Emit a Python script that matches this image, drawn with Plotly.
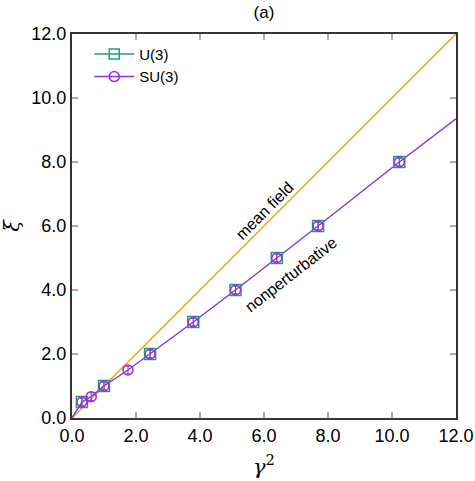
import plotly.graph_objects as go

# SU(3) data (all points) and U(3) data (subset)
su3_gamma2 = [0.31, 0.60, 1.00, 1.75, 2.44, 3.79, 5.11, 6.40, 7.69, 10.23]
su3_xi = [0.5, 0.667, 1.0, 1.5, 2.0, 3.0, 4.0, 5.0, 6.0, 8.0]
su3_err = [0.12, 0.12, 0.12, 0.12, 0.12, 0.12, 0.12, 0.12, 0.12, 0.12]

u3_gamma2 = [0.31, 1.00, 2.44, 3.79, 5.11, 6.40, 7.69, 10.23]
u3_xi = [0.5, 1.0, 2.0, 3.0, 4.0, 5.0, 6.0, 8.0]
u3_err = [0.12, 0.12, 0.12, 0.12, 0.12, 0.12, 0.12, 0.12]

# curves
mf_gamma2 = [0.0, 12.0]
mf_xi = [0.0, 12.0]
np_gamma2 = [0.0, 0.31, 0.60, 1.00, 1.75, 2.44, 3.79, 5.11, 6.40, 7.69, 10.23, 12.0]
np_xi = [0.0, 0.5, 0.667, 1.0, 1.5, 2.0, 3.0, 4.0, 5.0, 6.0, 8.0, 9.35]

green = "#1f9e78"
purple = "#9b2ee0"
line_purple = "#7e3fd6"
orange = "#f0a30a"

fig = go.Figure()

fig.add_trace(go.Scatter(x=mf_gamma2, y=mf_xi, mode="lines",
                         line=dict(color=orange, width=1.5), showlegend=False))
fig.add_trace(go.Scatter(x=np_gamma2, y=np_xi, mode="lines",
                         line=dict(color=line_purple, width=1.5), showlegend=False))

fig.add_trace(go.Scatter(
    x=u3_gamma2, y=u3_xi, mode="markers", name="U(3)",
    marker=dict(symbol="square-open", size=11, color=green, line=dict(width=1.5)),
    error_y=dict(type="data", array=u3_err, color=green, thickness=1, width=2),
    showlegend=False,
))
fig.add_trace(go.Scatter(
    x=su3_gamma2, y=su3_xi, mode="markers", name="SU(3)",
    marker=dict(symbol="circle-open", size=10, color=purple, line=dict(width=1.5)),
    error_y=dict(type="data", array=su3_err, color=purple, thickness=1, width=2),
    showlegend=False,
))

# legend entries
fig.add_trace(go.Scatter(
    x=[None], y=[None], mode="lines+markers", name="U(3)",
    line=dict(color=green, width=1.5),
    marker=dict(symbol="square-open", size=10, color=green, line=dict(width=1.5)),
))
fig.add_trace(go.Scatter(
    x=[None], y=[None], mode="lines+markers", name="SU(3)",
    line=dict(color=purple, width=1.5),
    marker=dict(symbol="circle-open", size=10, color=purple, line=dict(width=1.5)),
))

fig.add_annotation(x=6.03, y=6.47, text="mean field", showarrow=False,
                   textangle=-45, font=dict(size=16, color="black"))
fig.add_annotation(x=6.84, y=4.5, text="nonperturbative", showarrow=False,
                   textangle=-37.8, font=dict(size=16, color="black"))

axis_style = dict(
    range=[0, 12], dtick=2, tickformat=".1f", automargin=False,
    showgrid=False, zeroline=False,
    showline=True, linecolor="#333333", linewidth=2, mirror="ticks",
    ticks="inside", ticklen=6, tickcolor="#aaaaaa", tickwidth=1.5,
    tickfont=dict(size=18, color="black", family="Liberation Sans"),
)

fig.update_xaxes(**axis_style,
                 title=dict(text="<i>γ</i><sup>2</sup>",
                            font=dict(size=21, family="DejaVu Serif", color="black")))
fig.update_yaxes(**axis_style,
                 title=dict(text="<i>ξ</i>",
                            font=dict(size=21, family="DejaVu Serif", color="black")))

fig.update_layout(
    width=475, height=481,
    margin=dict(l=72, r=19, t=34, b=63),
    paper_bgcolor="white", plot_bgcolor="white",
    font=dict(family="Liberation Sans", color="black"),
    title=dict(text="(a)", x=0.5, xref="paper", y=0.975, yanchor="middle",
               font=dict(size=17, color="black")),
    legend=dict(x=0.045, y=0.99, xanchor="left", yanchor="top",
                bgcolor="rgba(0,0,0,0)", font=dict(size=15),
                tracegroupgap=0, itemwidth=40),
)

# page body has a default margin; remove it so the figure sits at the window corner
fig.write_html("out.html", config={"displayModeBar": False},
               post_script="document.body.style.margin='0';document.body.style.overflow='hidden';")
